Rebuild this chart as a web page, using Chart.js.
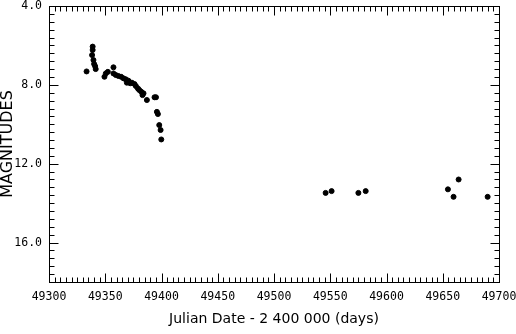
<!DOCTYPE html>
<html>
<head>
<meta charset="utf-8">
<script src="https://cdn.jsdelivr.net/npm/chart.js@4/dist/chart.umd.min.js"></script>
<style>
html, body { margin: 0; padding: 0; background: #fff; }
</style>
</head>
<body>
<canvas id="lc" width="516" height="334"></canvas>
<script>
// light curve
const julianDate = [
  49333.4, 49338.8, 49338.8, 49338.3, 49339.5, 49340.1, 49341.0, 49341.5,
  49349.3, 49350.5, 49352.3, 49357.3, 49357.3, 49359.4, 49361.7, 49364.1,
  49366.2, 49368.3, 49369.2, 49370.6, 49372.2, 49373.7, 49376.0, 49377.2,
  49379.0, 49380.2, 49382.0, 49383.1, 49384.0, 49387.0, 49393.8, 49395.1,
  49395.9, 49396.8, 49398.0, 49399.2, 49399.8,
  49545.9, 49551.2, 49575.0, 49581.5, 49654.6, 49659.6, 49664.1, 49689.9
];
const magnitude = [
  7.32, 6.06, 6.23, 6.49, 6.74, 6.94, 7.05, 7.20,
  7.59, 7.42, 7.34, 7.11, 7.42, 7.50, 7.55, 7.59,
  7.67, 7.72, 7.89, 7.79, 7.92, 7.89, 7.96, 8.06,
  8.18, 8.26, 8.35, 8.52, 8.43, 8.77, 8.63, 8.63,
  9.37, 9.48, 10.04, 10.29, 10.77,
  13.48, 13.39, 13.48, 13.39, 13.30, 13.68, 12.80, 13.68
];

const xMin = 49300, xMax = 49700, xStep = 50, xMinor = 5;
const yMin = 4, yMax = 18, yStep = 4, yMinor = 0.4;

const pts = julianDate.map((d, i) => ({ x: d, y: magnitude[i] }));

// box frame with inward ticks on all four sides
const frame = {
  id: 'frame',
  afterDraw(chart) {
    const ctx = chart.ctx, a = chart.chartArea;
    const xs = chart.scales.x, ys = chart.scales.y;
    ctx.save();
    ctx.strokeStyle = '#000';
    ctx.lineWidth = 1;
    const L = Math.round(a.left) + 0.5, R = Math.round(a.right) + 0.5;
    const T = Math.round(a.top) + 0.5, B = Math.round(a.bottom) + 0.5;
    ctx.strokeRect(L, T, R - L, B - T);
    ctx.beginPath();
    const nx = Math.round((xMax - xMin) / xMinor);
    for (let i = 0; i <= nx; i++) {
      const v = xMin + i * xMinor;
      const px = Math.round(xs.getPixelForValue(v)) + 0.5;
      const len = (i % (xStep / xMinor) === 0) ? 9 : 5;
      ctx.moveTo(px, B); ctx.lineTo(px, B - len);
      ctx.moveTo(px, T); ctx.lineTo(px, T + len);
    }
    const ny = Math.round((yMax - yMin) / yMinor);
    for (let i = 0; i <= ny; i++) {
      const v = yMin + i * yMinor;
      const py = Math.round(ys.getPixelForValue(v)) + 0.5;
      const len = (i % Math.round(yStep / yMinor) === 0) ? 9 : 5;
      ctx.moveTo(L, py); ctx.lineTo(L + len, py);
      ctx.moveTo(R, py); ctx.lineTo(R - len, py);
    }
    ctx.stroke();
    ctx.restore();
  }
};

const tickFont = { family: 'DejaVu Sans Mono', size: 11.5 };

// keep the plot box where the original has it
function noPad(s) {
  s.paddingTop = 0; s.paddingBottom = 0;
  s.paddingLeft = 0; s.paddingRight = 0;
}

new Chart(document.getElementById('lc'), {
  type: 'scatter',
  data: {
    datasets: [{
      data: pts,
      backgroundColor: '#000',
      borderColor: '#000',
      pointRadius: 2.5,
      pointHoverRadius: 2.5
    }]
  },
  options: {
    responsive: false,
    animation: false,
    devicePixelRatio: 1,
    layout: { padding: { top: 6, right: 17, left: 0, bottom: 0 } },
    plugins: { legend: { display: false }, tooltip: { enabled: false } },
    scales: {
      x: {
        type: 'linear', min: xMin, max: xMax,
        grid: { display: false, drawTicks: false },
        border: { display: false },
        ticks: {
          stepSize: xStep, color: '#000', font: tickFont, padding: 8,
          maxRotation: 0, autoSkip: false,
          callback: v => String(v)
        },
        title: {
          display: true, text: 'Julian Date - 2 400 000 (days)', color: '#000',
          font: { family: 'DejaVu Sans', size: 14, lineHeight: 1.2 },
          padding: { top: 0, bottom: 6 }
        },
        afterFit: s => { s.height = 52; noPad(s); }
      },
      y: {
        min: yMin, max: yMax, reverse: true,
        grid: { display: false, drawTicks: false },
        border: { display: false },
        ticks: {
          stepSize: yStep, color: '#000', font: tickFont, padding: 7,
          callback: v => (v % yStep === 0 && v < yMax) ? v.toFixed(1) : ''
        },
        title: {
          display: true, text: 'MAGNITUDES', color: '#000',
          font: { family: 'DejaVu Sans', size: 16, lineHeight: 1 },
          padding: 0
        },
        afterFit: s => { s.width = 49; noPad(s); }
      }
    }
  },
  plugins: [frame]
});
</script>
</body>
</html>
